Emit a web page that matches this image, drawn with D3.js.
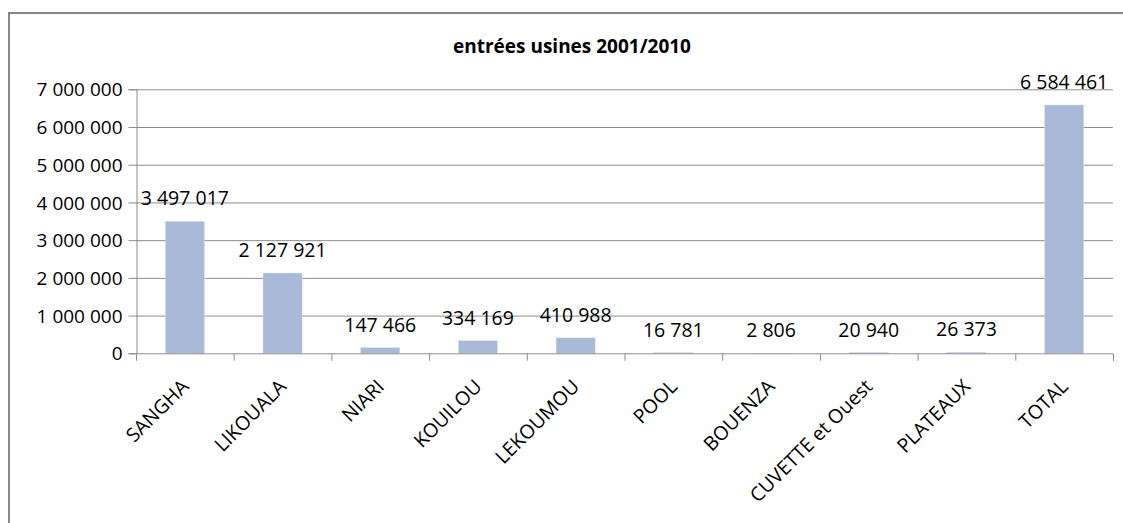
<!DOCTYPE html>
<html><head><meta charset="utf-8">
<script src="https://cdn.jsdelivr.net/npm/d3@7"></script>
<style>body{margin:0;background:#fff}svg{display:block}</style>
</head><body>
<svg id="c" width="1123" height="523"></svg>
<script>
const title = "entrées usines 2001/2010";
const categories = ["SANGHA","LIKOUALA","NIARI","KOUILOU","LEKOUMOU","POOL","BOUENZA","CUVETTE et Ouest","PLATEAUX","TOTAL"];
const values = [3497017,2127921,147466,334169,410988,16781,2806,20940,26373,6584461];
const yTicks = [0,1000000,2000000,3000000,4000000,5000000,6000000,7000000];

const svg = d3.select("#c");
const font = "'Open Sans', sans-serif";
const fmt = v => d3.format(",")(v).replace(/,/g, " ");

// outer frame (only top & left visible)
svg.append("rect").attr("x",9).attr("y",13).attr("width",1200).attr("height",600)
  .attr("fill","none").attr("stroke","#868686").attr("stroke-width",2);

const m = {left:136, right:1113, top:89.3, bottom:353.3};
const x = d3.scaleBand().domain(categories).range([m.left, m.right]).paddingInner(0.6).paddingOuter(0.3);
const xt = d3.scaleBand().domain(categories).range([m.left, m.right]);
const y = d3.scaleLinear().domain([0,7000000]).range([m.bottom, m.top]);

// gridlines
svg.append("g").selectAll("line").data(yTicks.filter(d=>d>0)).join("line")
  .attr("x1",m.left).attr("x2",m.right).attr("y1",d=>y(d)+0.5).attr("y2",d=>y(d)+0.5)
  .attr("stroke","#8c8c8c").attr("stroke-width",1);

// y axis
const ya = svg.append("g").attr("transform",`translate(${m.left+0.5},0)`)
  .call(d3.axisLeft(y).tickValues(yTicks).tickFormat(fmt).tickSize(8).tickPadding(6));
ya.select(".domain").attr("stroke","#8c8c8c");
ya.selectAll(".tick line").attr("stroke","#8c8c8c");
ya.selectAll("text").attr("font-family",font).attr("font-size",19).attr("fill","#000").attr("dy","0.35em");

// bars
svg.append("g").selectAll("rect").data(values).join("rect")
  .attr("x",(d,i)=>x(categories[i])).attr("width",x.bandwidth())
  .attr("y",d=>y(d)).attr("height",d=>y(0)-y(d))
  .attr("fill","#a9b9d8").attr("stroke","#d8e0ee").attr("stroke-width",0.5);

// x axis
const xa = svg.append("g").attr("transform",`translate(0,${m.bottom+0.5})`);
xa.append("line").attr("x1",m.left).attr("x2",m.right).attr("stroke","#8c8c8c");
xa.selectAll("line.t").data(d3.range(categories.length+1)).join("line").attr("class","t")
  .attr("x1",i=>m.left+i*xt.step()+0.5).attr("x2",i=>m.left+i*xt.step()+0.5)
  .attr("y1",0).attr("y2",7).attr("stroke","#8c8c8c");
xa.selectAll("text").data(categories).join("text")
  .attr("transform",d=>`translate(${xt(d)+xt.bandwidth()/2+5},${34}) rotate(-45)`)
  .attr("text-anchor","end").attr("font-family",font).attr("font-size",19.5).attr("fill","#000")
  .text(d=>d);

// value labels
svg.append("g").selectAll("text").data(values).join("text")
  .attr("x",(d,i)=>x(categories[i])+x.bandwidth()/2).attr("y",d=>y(d)-16)
  .attr("text-anchor","middle").attr("font-family",font).attr("font-size",19.5).attr("fill","#000")
  .text(fmt);

// title
svg.append("text").attr("x",572).attr("y",53).attr("text-anchor","middle")
  .attr("font-family",font).attr("font-size",19).attr("font-weight","bold").attr("fill","#000")
  .text(title);
</script>
</body></html>
